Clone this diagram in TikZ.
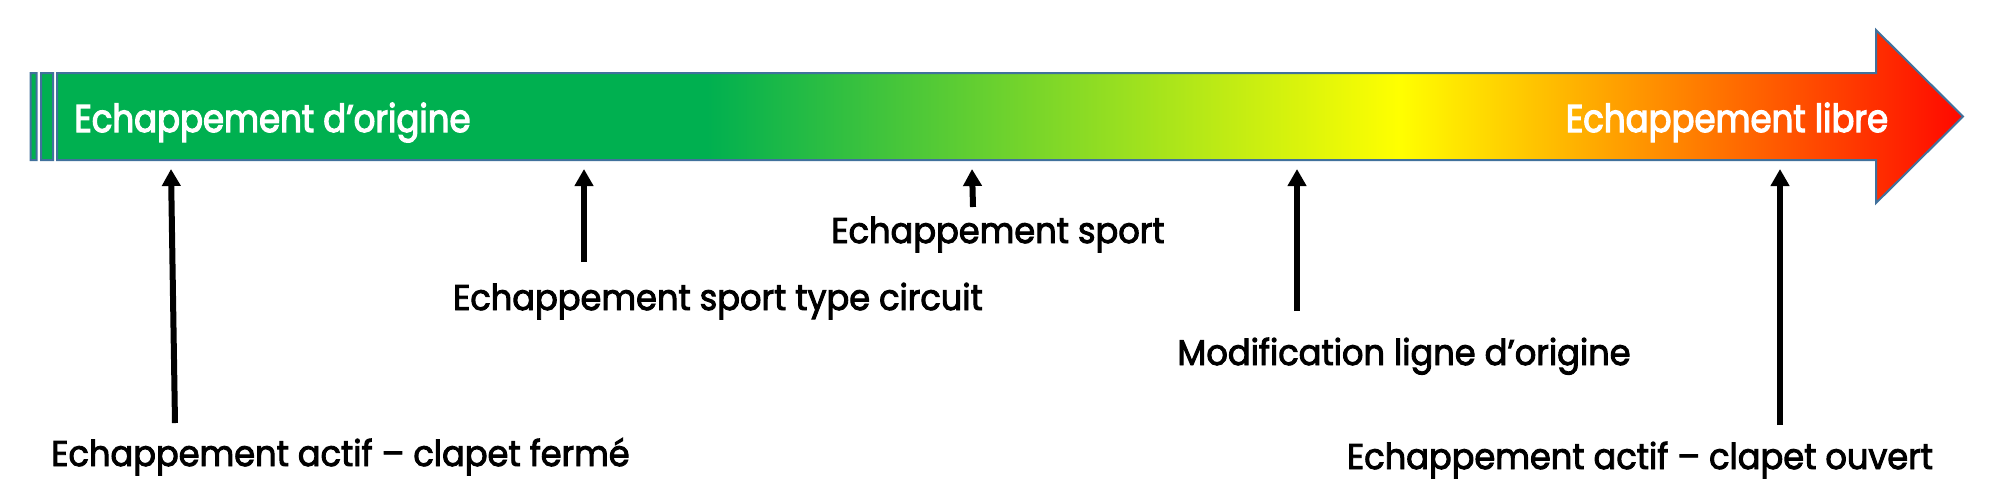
\documentclass[tikz,border=0pt]{standalone}
\usepackage{fontspec}
\setmainfont{Poppins}
\newfontfamily\lblfont{Poppins}[FakeStretch=0.94, FakeBold=2.6]
\newfontfamily\wlblfont{Poppins}[FakeStretch=0.88, FakeBold=3]
\usetikzlibrary{arrows.meta}
\definecolor{barline}{RGB}{65,113,156}
\definecolor{gstart}{RGB}{0,176,80}
\definecolor{gmid}{RGB}{255,255,0}
\definecolor{gend}{RGB}{255,8,0}
\pgfdeclarehorizontalshading{gradbar}{100bp}{color(0bp)=(gstart); color(42.5bp)=(gstart); color(60.4bp)=(gmid); color(75bp)=(gend); color(100bp)=(gend)}
\tikzset{
  lbl/.style={inner sep=0pt, anchor=base, text=black, font=\lblfont\fontsize{17.9pt}{20pt}\selectfont},
  wlbl/.style={inner sep=0pt, anchor=base, text=white, font=\wlblfont\fontsize{19.3pt}{22pt}\selectfont},
  ptr/.style={line width=3pt, -{Triangle[length=8.5pt, width=9pt]}},
  barshape/.style={shading=gradbar, draw=barline, line width=1pt}
}
\begin{document}
\begin{tikzpicture}[x=0.5pt, y=-0.5pt]
\useasboundingbox (0,0) rectangle (1995,500);
% the striped arrow
\path[barshape]
  (30.5,73) rectangle (36.5,160)
  (41,73) rectangle (53,160)
  (57,73) -- (1876,73) -- (1876,30) -- (1963,116.5) -- (1876,203) -- (1876,160) -- (57,160) -- cycle;
% texts on the bar
\node[wlbl] (orig) at (272.5,132) {Echappement d’origine};
\node[wlbl] (libre) at (1727,132) {Echappement libre};
% labels below
\node[lbl] (ferme) at (340.5,466) {Echappement actif – clapet fermé};
\node[lbl] (circuit) at (718,310) {Echappement sport type circuit};
\node[lbl] (sport) at (998,243) {Echappement sport};
\node[lbl] (modif) at (1404,365) {Modification ligne d’origine};
\node[lbl] (ouvert) at (1640,469) {Echappement actif – clapet ouvert};
% arrow ends
\coordinate (a1s) at (175,423); \coordinate (a1e) at (171,169);
\coordinate (a2s) at (584,262); \coordinate (a2e) at (584,169);
\coordinate (a3s) at (973,207); \coordinate (a3e) at (972,169);
\coordinate (a4s) at (1297,311); \coordinate (a4e) at (1297,169);
\coordinate (a5s) at (1780,425); \coordinate (a5e) at (1780,169);
\draw[ptr] (a1s) -- (a1e);
\draw[ptr] (a2s) -- (a2e);
\draw[ptr] (a3s) -- (a3e);
\draw[ptr] (a4s) -- (a4e);
\draw[ptr] (a5s) -- (a5e);
\end{tikzpicture}
\end{document}
